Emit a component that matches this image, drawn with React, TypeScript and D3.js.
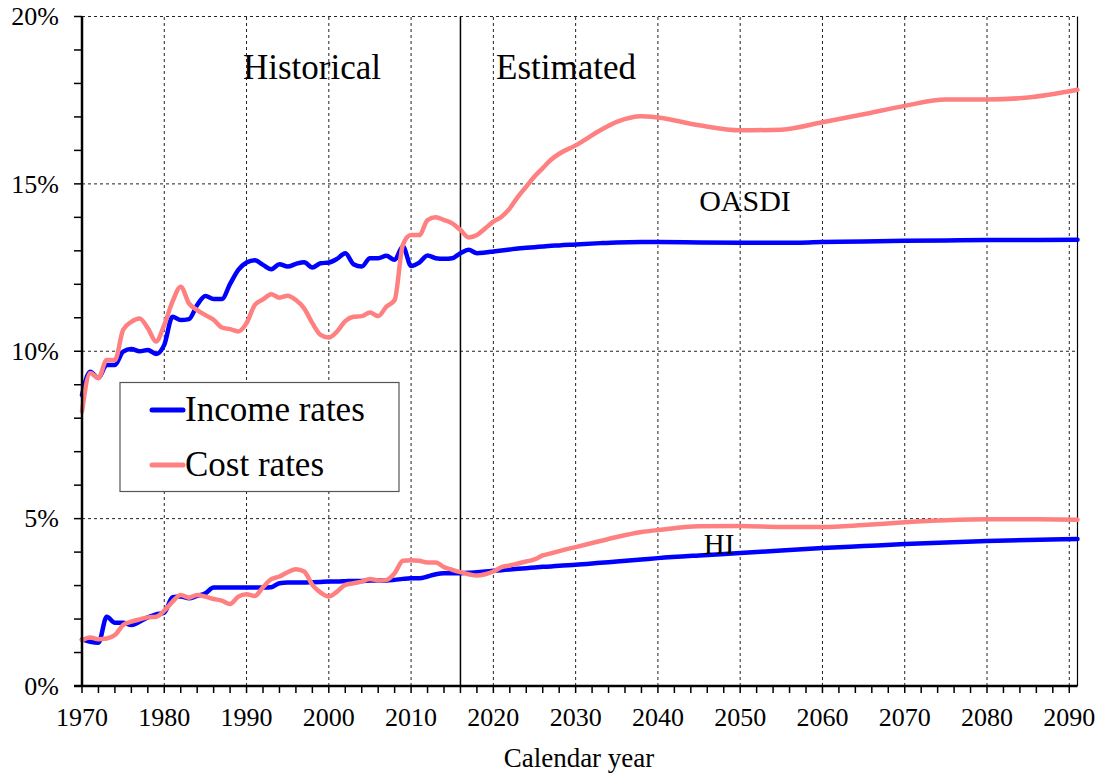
import React from 'react';
import * as d3 from 'd3';

// calendar years: historical 1970-2016, then estimated points
const histYears = d3.range(1970, 2017);
const projYears = [2017, 2018, 2019, 2020, 2021, 2022, 2023, 2024, 2025, 2026, 2027, 2028, 2030, 2033, 2035, 2038, 2040, 2045, 2050, 2055, 2060, 2065, 2070, 2075, 2080, 2085, 2091];

// OASDI, percent of taxable payroll
const oasdiIncomeHist = [
  8.69, 9.39, 9.2, 9.59, 9.59, 9.99, 10.07, 10.0, 10.04, 9.92,
  10.19, 11.03, 10.93, 10.96, 11.38, 11.65, 11.56, 11.56, 12.01, 12.43,
  12.65, 12.72, 12.58, 12.45, 12.6, 12.53, 12.61, 12.66, 12.5, 12.63,
  12.65, 12.76, 12.93, 12.6, 12.53, 12.78, 12.78, 12.85, 12.73, 13.13,
  12.55, 12.65, 12.86, 12.78, 12.76, 12.78, 12.93,
];
const oasdiIncomeProj = [13.03, 12.93, 12.95, 12.98, 13.01, 13.04, 13.07, 13.09, 13.11, 13.13, 13.15, 13.16, 13.19, 13.23, 13.25, 13.26, 13.26, 13.25, 13.24, 13.24, 13.26, 13.28, 13.3, 13.31, 13.32, 13.32, 13.33];

const oasdiCostHist = [
  8.2, 9.35, 9.2, 9.74, 9.74, 10.64, 10.88, 10.98, 10.69, 10.29,
  10.79, 11.48, 11.93, 11.43, 11.23, 11.08, 10.94, 10.71, 10.66, 10.59,
  10.84, 11.38, 11.55, 11.7, 11.6, 11.66, 11.53, 11.28, 10.84, 10.49,
  10.41, 10.59, 10.9, 11.03, 11.05, 11.16, 11.05, 11.33, 11.53, 13.18,
  13.47, 13.47, 13.92, 14.0, 13.92, 13.82, 13.62,
];
const oasdiCostProj = [13.4, 13.47, 13.67, 13.87, 14.02, 14.27, 14.62, 14.92, 15.22, 15.47, 15.72, 15.9, 16.15, 16.6, 16.85, 17.02, 16.98, 16.75, 16.6, 16.62, 16.84, 17.08, 17.33, 17.52, 17.52, 17.58, 17.81];

// HI
const hiIncomeHist = [
  1.39, 1.32, 1.29, 2.07, 1.89, 1.89, 1.82, 1.92, 2.05, 2.14,
  2.19, 2.65, 2.67, 2.62, 2.69, 2.77, 2.94, 2.94, 2.94, 2.94,
  2.94, 2.94, 2.94, 2.95, 3.07, 3.09, 3.09, 3.09, 3.1, 3.11,
  3.12, 3.12, 3.13, 3.14, 3.14, 3.15, 3.15, 3.15, 3.17, 3.2,
  3.22, 3.22, 3.27, 3.34, 3.37, 3.37, 3.37,
];
const hiIncomeProj = [3.38, 3.4, 3.42, 3.44, 3.46, 3.48, 3.5, 3.52, 3.54, 3.56, 3.57, 3.59, 3.62, 3.68, 3.72, 3.78, 3.82, 3.9, 3.97, 4.05, 4.12, 4.18, 4.24, 4.29, 4.33, 4.36, 4.39];

const hiCostHist = [
  1.37, 1.45, 1.4, 1.42, 1.52, 1.82, 1.92, 1.99, 2.05, 2.07,
  2.25, 2.52, 2.72, 2.64, 2.72, 2.67, 2.6, 2.55, 2.45, 2.67,
  2.74, 2.69, 2.95, 3.19, 3.27, 3.4, 3.49, 3.42, 3.02, 2.79,
  2.67, 2.82, 3.02, 3.07, 3.12, 3.2, 3.15, 3.17, 3.37, 3.74,
  3.76, 3.74, 3.69, 3.69, 3.55, 3.47, 3.4,
];
const hiCostProj = [3.34, 3.3, 3.34, 3.42, 3.55, 3.6, 3.66, 3.72, 3.78, 3.9, 3.96, 4.03, 4.15, 4.33, 4.45, 4.6, 4.66, 4.77, 4.78, 4.75, 4.75, 4.81, 4.89, 4.95, 4.98, 4.98, 4.97];

const yTicks = [0, 5, 10, 15, 20];
const xTicks = d3.range(1970, 2091, 10);
const lastHistYear = 2016;

const W = 1099;
const H = 776;
const margin = { top: 16.5, right: 21.5, bottom: 90, left: 82 };

const INCOME = '#0000ff';
const COST = '#ff8080';
const serif = "'Liberation Serif', 'Times New Roman', Times, serif";

const App: React.FC = () => {
  const x = d3.scaleLinear().domain([1970, 2091]).range([margin.left, W - margin.right]);
  const y = d3.scaleLinear().domain([0, 20]).range([H - margin.bottom, margin.top]);

  const allYears = histYears.concat(projYears);
  const toPts = (hist: number[], proj: number[]) =>
    hist.concat(proj).map((v, i) => [allYears[i], v] as [number, number]);

  const line = d3.line<[number, number]>()
    .x(d => x(d[0]))
    .y(d => y(d[1]))
    .curve(d3.curveMonotoneX);

  const series = [
    { pts: toPts(hiIncomeHist, hiIncomeProj), color: INCOME },
    { pts: toPts(oasdiIncomeHist, oasdiIncomeProj), color: INCOME },
    { pts: toPts(hiCostHist, hiCostProj), color: COST },
    { pts: toPts(oasdiCostHist, oasdiCostProj), color: COST },
  ];

  const x0 = margin.left;
  const x1 = W - margin.right;
  const y0 = H - margin.bottom;
  const y1 = margin.top;

  return (
    <svg width={W} height={H} style={{ position: 'absolute', left: 0, top: 0, background: '#fff', fontFamily: serif }}>
      {/* grid */}
      {yTicks.filter(t => t > 0).map(t => (
        <line key={'gy' + t} x1={x0} x2={x1} y1={y(t)} y2={y(t)} stroke="#222" strokeWidth={1} strokeDasharray="3,3" />
      ))}
      {xTicks.filter(t => t > 1970).map(t => (
        <line key={'gx' + t} x1={x(t)} x2={x(t)} y1={y0} y2={y1} stroke="#222" strokeWidth={1} strokeDasharray="3,3" />
      ))}
      {/* right border */}
      <line x1={x1} x2={x1} y1={y1} y2={y0} stroke="#000" strokeWidth={1.2} />
      {/* historical / estimated divider */}
      <line x1={x(lastHistYear)} x2={x(lastHistYear)} y1={y1} y2={y0} stroke="#000" strokeWidth={1.5} />

      {/* series */}
      {series.map((s, i) => (
        <path key={i} d={line(s.pts) || ''} fill="none" stroke={s.color} strokeWidth={4.5} strokeLinejoin="round" strokeLinecap="round" />
      ))}

      {/* axes */}
      <line x1={x0} x2={x0} y1={y1} y2={y0} stroke="#000" strokeWidth={2.5} />
      <line x1={x0 - 8} x2={x1} y1={y0} y2={y0} stroke="#000" strokeWidth={2.5} />
      {d3.range(0, 21).map(t => (
        <line key={'ty' + t} x1={x0 - 8} x2={x0} y1={y(t)} y2={y(t)} stroke="#000" strokeWidth={1.5} />
      ))}
      {d3.range(1970, 2092, 2).map(t => (
        <line key={'tx' + t} x1={x(t)} x2={x(t)} y1={y0} y2={y0 + 7} stroke="#000" strokeWidth={1.5} />
      ))}
      {yTicks.map(t => (
        <text key={'ly' + t} x={59} y={y(t)} dy="0.34em" textAnchor="end" fontSize={26}>{t}%</text>
      ))}
      {xTicks.map(t => (
        <text key={'lx' + t} x={x(t)} y={726} textAnchor="middle" fontSize={26}>{t}</text>
      ))}
      <text x={579} y={767} textAnchor="middle" fontSize={27}>Calendar year</text>

      {/* annotations */}
      <text x={312} y={79} textAnchor="middle" fontSize={35}>Historical</text>
      <text x={566} y={79} textAnchor="middle" fontSize={35}>Estimated</text>
      <text x={745} y={211} textAnchor="middle" fontSize={30}>OASDI</text>
      <text x={719} y={554} textAnchor="middle" fontSize={29}>HI</text>

      {/* legend */}
      <rect x={120} y={382.5} width={279} height={109} fill="#fff" stroke="#555" strokeWidth={1.2} />
      <line x1={152} x2={183} y1={410} y2={410} stroke={INCOME} strokeWidth={5} strokeLinecap="round" />
      <text x={185} y={421} fontSize={35}>Income rates</text>
      <line x1={152} x2={183} y1={465} y2={465} stroke={COST} strokeWidth={5} strokeLinecap="round" />
      <text x={185} y={476} fontSize={35}>Cost rates</text>
    </svg>
  );
};

export default App;
